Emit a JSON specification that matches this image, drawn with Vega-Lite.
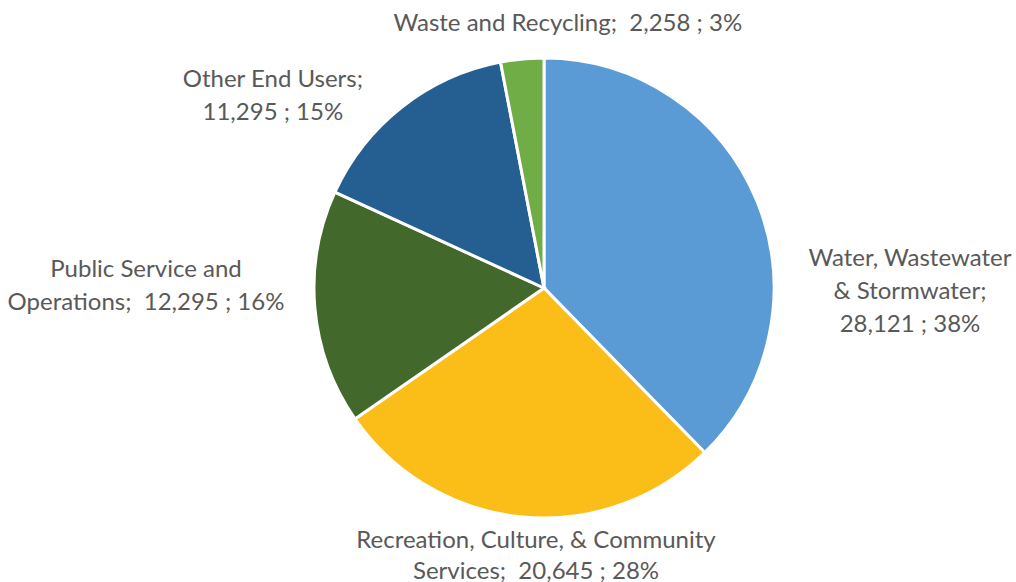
{
  "$schema": "https://vega.github.io/schema/vega-lite/v6.json",
  "autosize": {"type": "none"},
  "width": 944,
  "height": 576,
  "padding": {"left": 72, "top": 0, "right": 0, "bottom": 6},
  "background": "white",
  "config": {"view": {"stroke": null}},
  "data": {
    "values": [
      {"idx": 1, "category": "Water, Wastewater & Stormwater", "value": 28121, "label": "Water, Wastewater\n& Stormwater;\n28,121 ; 38%"},
      {"idx": 2, "category": "Recreation, Culture, & Community Services", "value": 20645, "label": "Recreation, Culture, & Community\nServices;\u00a0 20,645 ; 28%"},
      {"idx": 3, "category": "Public Service and Operations", "value": 12295, "label": "Public Service and\nOperations;\u00a0 12,295 ; 16%"},
      {"idx": 4, "category": "Other End Users", "value": 11295, "label": "Other End Users;\n11,295 ; 15%"},
      {"idx": 5, "category": "Waste and Recycling", "value": 2258, "label": "Waste and Recycling;\u00a0 2,258 ; 3%"}
    ]
  },
  "encoding": {
    "theta": {"field": "value", "type": "quantitative", "stack": true},
    "order": {"field": "idx", "type": "ordinal"}
  },
  "layer": [
    {
      "mark": {"type": "arc", "outerRadius": 230, "stroke": "white", "strokeWidth": 3},
      "encoding": {
        "color": {
          "field": "category", "type": "nominal", "legend": null,
          "scale": {
            "domain": ["Water, Wastewater & Stormwater", "Recreation, Culture, & Community Services", "Public Service and Operations", "Other End Users", "Waste and Recycling"],
            "range": ["#5B9BD5", "#FBBE19", "#43682B", "#255E91", "#70AD47"]
          }
        }
      }
    },
    {
      "mark": {"type": "text", "radius": 366, "thetaOffset": 0.398, "dy": -33, "font": "Lato", "fontSize": 24, "color": "#595959", "lineBreak": "\n", "lineHeight": 33, "align": "center", "baseline": "middle"},
      "encoding": {"text": {"condition": {"test": "datum.idx == 1", "field": "label"}, "value": ""}}
    },
    {
      "mark": {"type": "text", "radius": 269, "thetaOffset": -0.066, "dy": -16, "font": "Lato", "fontSize": 24, "color": "#595959", "lineBreak": "\n", "lineHeight": 31, "align": "center", "baseline": "middle"},
      "encoding": {"text": {"condition": {"test": "datum.idx == 2", "field": "label"}, "value": ""}}
    },
    {
      "mark": {"type": "text", "radius": 398, "thetaOffset": 0.093, "dy": -16, "font": "Lato", "fontSize": 24, "color": "#595959", "lineBreak": "\n", "lineHeight": 33, "align": "center", "baseline": "middle"},
      "encoding": {"text": {"condition": {"test": "datum.idx == 3", "field": "label"}, "value": ""}}
    },
    {
      "mark": {"type": "text", "radius": 332, "thetaOffset": -0.29, "dy": -16, "font": "Lato", "fontSize": 24, "color": "#595959", "lineBreak": "\n", "lineHeight": 33, "align": "center", "baseline": "middle"},
      "encoding": {"text": {"condition": {"test": "datum.idx == 4", "field": "label"}, "value": ""}}
    },
    {
      "mark": {"type": "text", "radius": 265, "thetaOffset": 0.185, "font": "Lato", "fontSize": 24, "color": "#595959", "lineBreak": "\n", "lineHeight": 33, "align": "center", "baseline": "middle"},
      "encoding": {"text": {"condition": {"test": "datum.idx == 5", "field": "label"}, "value": ""}}
    }
  ]
}
